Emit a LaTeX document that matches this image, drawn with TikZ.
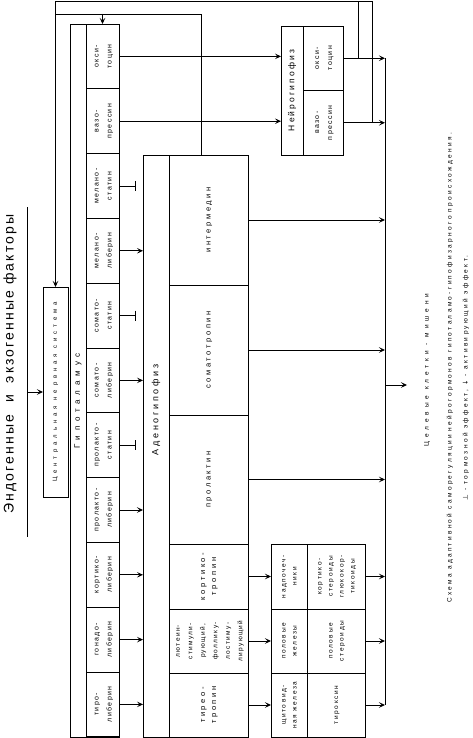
\documentclass[tikz,border=0pt]{standalone}
\usepackage{fontspec}
\setmainfont{Liberation Sans}
\newfontfamily\symfont{DejaVu Sans}
\usepackage{graphicx}
\usetikzlibrary{positioning,arrows.meta,calc}

\newcommand{\vt}[1]{\rotatebox{90}{\begin{tabular}{@{}c@{}}#1\end{tabular}}}
\newcommand{\sz}[3]{\fontsize{#1}{#2}\selectfont\addfontfeature{LetterSpace=#3}}

\begin{document}
\begin{tikzpicture}[x=1pt, y=-1pt, line width=0.8pt, node distance=0pt,
		box/.style={draw, inner sep=0pt, outer sep=0pt},
		hcell/.style={box, minimum width=33pt, minimum height=64.8pt, font=\sz{7}{13}{20}},
		acell/.style={box, minimum width=79pt, font=\sz{7.5}{11}{35}},
		ncell/.style={box, minimum width=40pt, minimum height=64.5pt, font=\sz{7}{13}{20}},
		gcell/.style={box, minimum height=64pt, font=\sz{6.5}{11}{25}},
		act/.style={-{Stealth[length=6pt,width=5.5pt,inset=2.5pt]}},
		inh/.style={-{Bar[width=10pt]}}]

		\useasboundingbox (0,0) rectangle (473,738);

		% hypothalamus

		\node[box, minimum width=49pt, minimum height=713pt] (hypo) at (94.5,380.5) {};

		\node[font=\sz{8}{10}{60}] (hypolab) at (78,401) {\rotatebox{90}{Гипоталамус}};

		\node[hcell] (h1) at (102.5,56.4) {\vt{окси-\\тоцин}};
		\node[hcell, below=of h1] (h2) {\vt{вазо-\\прессин}};
		\node[hcell, below=of h2] (h3) {\vt{мелано-\\статин}};
		\node[hcell, below=of h3] (h4) {\vt{мелано-\\либерин}};
		\node[hcell, below=of h4] (h5) {\vt{сомато-\\статин}};
		\node[hcell, below=of h5] (h6) {\vt{сомато-\\либерин}};
		\node[hcell, below=of h6] (h7) {\vt{пролакто-\\статин}};
		\node[hcell, below=of h7] (h8) {\vt{пролакто-\\либерин}};
		\node[hcell, below=of h8] (h9) {\vt{кортико-\\либерин}};
		\node[hcell, below=of h9] (h10) {\vt{гонадо-\\либерин}};
		\node[hcell, below=of h10] (h11) {\vt{тиро-\\либерин}};

		% adenohypophysis

		\node[box, minimum width=105pt, minimum height=582pt] (adeno) at (195.5,446) {};

		\node[font=\sz{9}{11}{30}] (adenolab) at (156,410) {\rotatebox{90}{Аденогипофиз}};

		\node[acell, minimum height=130pt] (a1) at (208.5,220) {\vt{интермедин}};
		\node[acell, minimum height=130pt, below=of a1] (a2) {\vt{соматотропин}};
		\node[acell, minimum height=129pt, below=of a2] (a3) {\vt{пролактин}};
		\node[acell, minimum height=65pt, below=of a3] (a4) {\vt{кортико-\\тропин}};
		\node[acell, minimum height=64pt, below=of a4, font=\sz{6.5}{12.5}{20}] (a5) {\vt{лютеин-\\стимули-\\рующий,\\фоллику-\\лостиму-\\лирующий}};
		\node[acell, minimum height=64pt, below=of a5] (a6) {\vt{тирео-\\тропин}};

		% neurohypophysis

		\node[box, minimum width=62pt, minimum height=129pt] (neuro) at (312,90.5) {};

		\node[font=\sz{8.5}{10}{25}] (neurolab) at (292,90.5) {\rotatebox{90}{Нейрогипофиз}};

		\node[ncell] (n1) at (323,58.25) {\vt{окси-\\тоцин}};
		\node[ncell, below=of n1] (n2) {\vt{вазо-\\прессин}};

		% glands

		\node[gcell, minimum width=36pt, minimum height=65pt] (g1l) at (289,576.5) {\vt{надпочеч-\\ники}};
		\node[gcell, minimum width=36pt, below=of g1l] (g2l) {\vt{половые\\железы}};
		\node[gcell, minimum width=36pt, below=of g2l] (g3l) {\vt{щитовид-\\ная железа}};
		\node[gcell, minimum width=58pt, minimum height=65pt, right=of g1l] (g1r) {\vt{кортико-\\стероиды\\глюкокор-\\тикоиды}};
		\node[gcell, minimum width=58pt, right=of g2l] (g2r) {\vt{половые\\стероиды}};
		\node[gcell, minimum width=58pt, right=of g3l] (g3r) {\vt{тироксин}};

		% cns and factors

		\node[box, minimum width=25pt, minimum height=210pt, font=\sz{6}{8}{65}] (cns) at (55.5,392) {\rotatebox{90}{Центральная нервная система}};

		\node[font=\sz{14}{16}{15}] (factors) at (10,364) {\rotatebox{90}{Эндогенные \ и \ экзогенные факторы}};

		\coordinate (fTop) at (27,207);
		\coordinate (fBot) at (27,537);

		\draw (fTop) -- (fBot);

		\draw[act] (fTop |- cns.west) -- (cns.west);

		% hypothalamus -> hypophysis

		\draw[act] (h1.east) -- (h1.east -| neuro.west);
		\draw[act] (h2.east) -- (h2.east -| neuro.west);
		\draw[inh] (h3.east) -- ($(h3.east -| adeno.west)+(-7,0)$);
		\draw[act] (h4.east) -- (h4.east -| adeno.west);
		\draw[inh] (h5.east) -- ($(h5.east -| adeno.west)+(-7,0)$);
		\draw[act] (h6.east) -- (h6.east -| adeno.west);
		\draw[inh] (h7.east) -- ($(h7.east -| adeno.west)+(-7,0)$);
		\draw[act] (h8.east) -- (h8.east -| adeno.west);
		\draw[act] (h9.east) -- (h9.east -| adeno.west);
		\draw[act] (h10.east) -- (h10.east -| adeno.west);
		\draw[act] (h11.east) -- (h11.east -| adeno.west);

		% adenohypophysis -> glands

		\draw[act] (a4.east) -- (a4.east -| g1l.west);
		\draw[act] (a5.east) -- (a5.east -| g2l.west);
		\draw[act] (a6.east) -- (a6.east -| g3l.west);

		% target cells

		\coordinate (tgt) at (385,0);

		\draw (tgt |- n1.east) -- (tgt |- g3r.east);

		\draw[act] (n1.east) -- (n1.east -| tgt);
		\draw[act] (n2.east) -- (n2.east -| tgt);
		\draw[act] (a1.east) -- (a1.east -| tgt);
		\draw[act] (a2.east) -- (a2.east -| tgt);
		\draw[act] (a3.east) -- (a3.east -| tgt);
		\draw[act] (g1r.east) -- (g1r.east -| tgt);
		\draw[act] (g2r.east) -- (g2r.east -| tgt);
		\draw[act] (g3r.east) -- (g3r.east -| tgt);

		% feedback

		\coordinate (fbA) at (358,1.5);
		\coordinate (fbB) at (372,1.5);
		\coordinate (fbC) at (201,14);

		\draw (fbA |- n1.east) -- (fbA);
		\draw[act] (fbB |- n2.east) -- (fbB) -- (fbB -| cns.north) -- (cns.north);
		\draw (fbC |- a1.north) -- (fbC) -- (fbC -| cns.north);
		\draw[act] (h1.north |- fbC) -- (h1.north);

		% caption

		\coordinate (tgtArr) at (407,385);

		\draw[act] (tgtArr -| tgt) -- (tgtArr);

		\node[font=\sz{6.5}{8}{60}] (targets) at (427,370) {\rotatebox{90}{Целевые клетки - мишени}};
		\node[font=\sz{6.5}{8}{36}] (capA) at (450,368) {\rotatebox{90}{Схема адаптивной саморегуляции нейрогормонов гипоталамо-гипофизарного происхождения.}};
		\node[font=\sz{6.5}{8}{37}] (capB) at (466,378) {\rotatebox{90}{{\symfont ⊥} - тормозной эффект, {\symfont ↓} - активирующий эффект.}};

	\end{tikzpicture}
\end{document}
